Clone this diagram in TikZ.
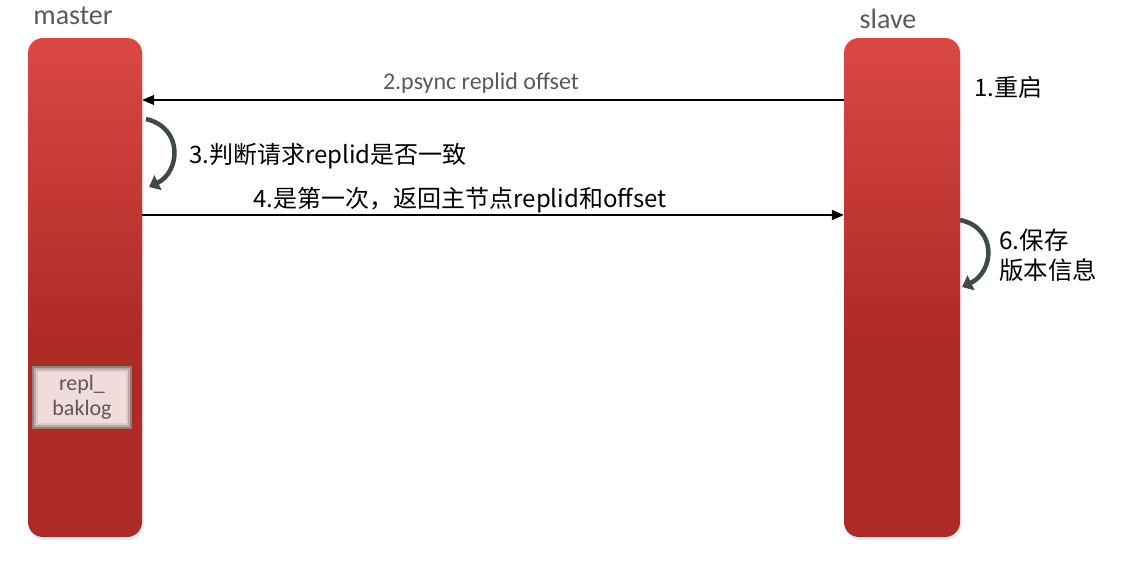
\documentclass[tikz,border=0pt]{standalone}
\usepackage{fontspec}
\setmainfont{Carlito}
\newfontfamily\cjk{Noto Sans CJK SC}
\usetikzlibrary{arrows.meta,shadows,calc}
\definecolor{bartop}{RGB}{218,72,68}
\definecolor{bardark}{RGB}{174,42,39}
\definecolor{labgray}{RGB}{89,89,89}
\definecolor{loopgray}{RGB}{62,74,73}
\definecolor{bakpink}{RGB}{242,220,219}
\definecolor{bakedge1}{RGB}{140,128,128}
\definecolor{bakedge2}{RGB}{190,170,170}
\definecolor{bakedge3}{RGB}{222,200,200}
\pgfdeclareverticalshading{barshade}{100bp}{color(0bp)=(bardark); color(25bp)=(bardark); color(45bp)=(bardark); color(75bp)=(bartop); color(100bp)=(bartop)}
\tikzset{
  bar/.style={rectangle, rounded corners=15pt, minimum width=114pt, minimum height=499pt, shading=barshade, draw=none, inner sep=0pt,
    drop shadow={opacity=0.18, shadow xshift=1.5pt, shadow yshift=-3pt}},
  title/.style={font=\fontsize{28}{32}\selectfont, text=labgray, inner sep=0pt},
  msg/.style={-{Triangle[length=12pt,width=10pt]}, line width=1.6pt, black},
  cjklab/.style={font=\cjk\fontsize{24}{30}\selectfont, text=black, inner sep=0pt},
  graylab/.style={font=\fontsize{24}{28}\selectfont, text=labgray, inner sep=0pt},
  loop/.style={line width=4.5pt, loopgray, -{Triangle[length=10pt,width=16pt]}},
}
\begin{document}
\begin{tikzpicture}[x=1pt,y=-1pt]
\useasboundingbox (0,0) rectangle (1121,587);
% bars
\node[bar] (master) at (85,287.5) {};
\node[bar, minimum width=116pt] (slave) at (902,287.5) {};
\node[title] (mastert) at (73,16) {master};
\node[title] (slavet) at (888,19) {slave};
% repl_baklog box
\fill[bakedge1] (32,366) rectangle (132,429);
\fill[bakedge2] (34,368) rectangle (130,427);
\fill[bakedge3] (36,370) rectangle (128,425);
\node[rectangle, fill=bakpink, minimum width=88pt, minimum height=51pt, inner sep=0pt] (bak) at (82,397.5) {};
\node[graylab, font=\fontsize{22}{25}\selectfont, align=center] (baktext) at (82,397.5) {repl\_\\baklog};
% coordinates for messages
\coordinate (y2) at (0,100);
\coordinate (y4) at (0,215);
% message 2
\draw[msg] (slave.west |- y2) -- (master.east |- y2);
\node[graylab] (l2) at (481,83) {2.psync replid offset};
% loop 3
\coordinate (a3) at (146,119);
\coordinate (b3) at (149,187);
\draw[loop] (a3) .. controls (184,128) and (180,172) .. (b3);
\node[cjklab, anchor=west] (l3) at (189,156) {3.判断请求replid是否一致};
% message 4
\draw[msg] (master.east |- y4) -- (slave.west |- y4);
\node[cjklab] (l4) at (460,200) {4.是第一次，返回主节点replid和offset};
% label 1
\node[cjklab, anchor=west] (l1) at (974,87) {1.重启};
% loop 6
\coordinate (a6) at (960,220);
\coordinate (b6) at (962,287);
\draw[loop] (a6) .. controls (998,228) and (994,272) .. (b6);
\node[cjklab, anchor=west, align=left, font=\cjk\fontsize{24.5}{30}\selectfont] (l6) at (999,255) {6.保存\\版本信息};
\end{tikzpicture}
\end{document}
